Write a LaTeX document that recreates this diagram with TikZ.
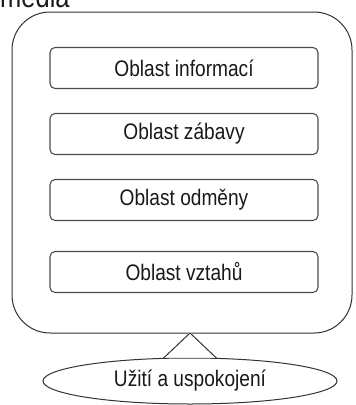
\documentclass[tikz,border=0pt]{standalone}
\usepackage{fontspec}
\setmainfont[FakeStretch=0.85]{Liberation Sans}
\usetikzlibrary{shapes.geometric}
\begin{document}
\begin{tikzpicture}[x=1pt,y=-1pt,
  container/.style={draw=black!80, line width=1pt, rounded corners=38pt, minimum width=340pt, minimum height=321pt, inner sep=0pt},
  areabox/.style={draw=black!70, line width=1.1pt, rounded corners=5pt, minimum width=268pt, minimum height=41pt, inner sep=0pt, text=black!90, font=\fontsize{22.5}{24}\selectfont},
  userell/.style={ellipse, draw=black!80, line width=1pt, fill=white, minimum width=294pt, minimum height=46pt, inner sep=0pt, text=black!90, font=\fontsize{22.5}{24}\selectfont}]
\useasboundingbox (0,0) rectangle (356,405);
\clip (0,0) rectangle (356,405);
\node[anchor=base west, inner sep=0pt, text=black!90, font=\fontsize{30}{30}\selectfont] (title) at (0,7.5) {média};
\node[container] (media) at (182,172.5) {};
\node[areabox] (a1) at (184,68) {Oblast informací};
\node[areabox] (a2) at (184,134) {Oblast zábavy};
\node[areabox] (a3) at (184,200) {Oblast odměny};
\node[areabox] (a4) at (184,272) {Oblast vztahů};
\node[userell] (user) at (190,381) {Užití a uspokojení};
\coordinate (pl) at (163,358.6);
\coordinate (pa) at (190,333);
\coordinate (pr) at (217,358.6);
\fill[white] ([yshift=1pt]pl) -- ([yshift=1pt]pa) -- ([yshift=1pt]pr) -- cycle;
\draw[draw=black!80, line width=1pt] (pl) -- (pa) -- (pr);
\end{tikzpicture}
\end{document}
